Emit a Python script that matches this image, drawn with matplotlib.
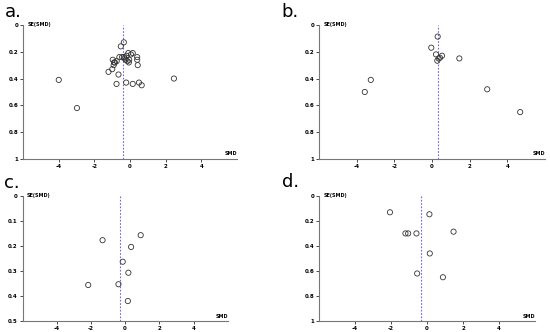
import numpy as np
import matplotlib.pyplot as plt

# funnel plot data: SMD (x) and SE(SMD) (y) per panel
a_smd = [-0.35, -0.52, -0.6, -0.45, -0.3, -0.2, -0.1, 0.05, 0.15, 0.4, 0.4,
         -0.25, -0.15, -0.05, -0.35, -0.97, -0.9, -0.85, -0.75, -0.92, 0.43,
         -0.07, -1.0, -1.21, -0.65, -4.0, 2.46, -0.76, -0.22, 0.15, 0.5, 0.65, -2.98]
a_se = [0.13, 0.16, 0.24, 0.24, 0.25, 0.23, 0.21, 0.22, 0.21, 0.24, 0.26,
        0.26, 0.27, 0.26, 0.24, 0.26, 0.28, 0.28, 0.27, 0.30, 0.30,
        0.28, 0.33, 0.35, 0.37, 0.41, 0.40, 0.44, 0.43, 0.44, 0.43, 0.45, 0.62]
b_smd = [0.30, -0.04, 0.21, 0.53, 0.42, 0.35, 0.28, 1.45, -3.25, -3.57, 2.93, 4.68]
b_se = [0.087, 0.17, 0.22, 0.23, 0.245, 0.25, 0.267, 0.25, 0.41, 0.50, 0.48, 0.65]
c_smd = [0.91, -1.32, 0.35, -0.14, 0.19, -2.16, -0.39, 0.16]
c_se = [0.157, 0.177, 0.204, 0.263, 0.307, 0.356, 0.353, 0.42]
d_smd = [-2.06, 0.13, -1.2, -1.05, -0.59, 1.47, 0.15, -0.55, 0.88]
d_se = [0.131, 0.147, 0.30, 0.30, 0.30, 0.286, 0.46, 0.62, 0.65]

pooled = {'a': -0.37, 'b': 0.32, 'c': -0.31, 'd': -0.33}

se_ticks = [0, 0.2, 0.4, 0.6, 0.8, 1]
se_labels = ['0', '0.2', '0.4', '0.6', '0.8', '1']
c_ticks = [0, 0.1, 0.2, 0.3, 0.4, 0.5]
c_labels = ['0', '0.1', '0.2', '0.3', '0.4', '0.5']

panels = [
    ('a', a_smd, a_se, 1.0, se_ticks, se_labels, [0.042, 0.521, 0.389, 0.404], (0.008, 0.99)),
    ('b', b_smd, b_se, 1.0, se_ticks, se_labels, [0.58, 0.521, 0.411, 0.404], (0.512, 0.99)),
    ('c', c_smd, c_se, 0.5, c_ticks, c_labels, [0.041, 0.033, 0.373, 0.377], (0.008, 0.475)),
    ('d', d_smd, d_se, 1.0, se_ticks, se_labels, [0.58, 0.033, 0.393, 0.377], (0.512, 0.478)),
]

fig = plt.figure(figsize=(5.5, 3.32), dpi=100)

for name, xs, ys, ymax, yt, ytl, pos, lab in panels:
    ax = fig.add_axes(pos)
    ax.scatter(xs, ys, s=14, facecolors='none', edgecolors='#333333', linewidths=0.6, zorder=3)
    ax.axvline(pooled[name], color='#6a6adf', linestyle=(0, (1.5, 1.5)), linewidth=0.8)
    ax.set_xlim(-6, 6)
    ax.set_ylim(ymax, 0)
    ax.set_xticks([-4, -2, 0, 2, 4])
    ax.set_xticklabels(['-4', '-2', '0', '2', '4'])
    ax.set_yticks(yt)
    ax.set_yticklabels(ytl)
    ax.tick_params(labelsize=4, length=2, width=0.5, pad=1.5)
    for t in ax.get_xticklabels() + ax.get_yticklabels():
        t.set_fontweight('bold')
    ax.spines['top'].set_visible(False)
    ax.spines['right'].set_visible(False)
    for s in ['left', 'bottom']:
        ax.spines[s].set_color('#777777')
        ax.spines[s].set_linewidth(0.8)
    ax.text(0.02, 1.0, 'SE(SMD)', transform=ax.transAxes, fontsize=3.5, fontweight='bold',
            ha='left', va='center')
    ax.text(1.0, 0.02, 'SMD', transform=ax.transAxes, fontsize=3.5, fontweight='bold',
            ha='right', va='bottom')
    fig.text(lab[0], lab[1], name + '.', fontsize=13, ha='left', va='top')

fig.savefig('out.png', dpi=100)
